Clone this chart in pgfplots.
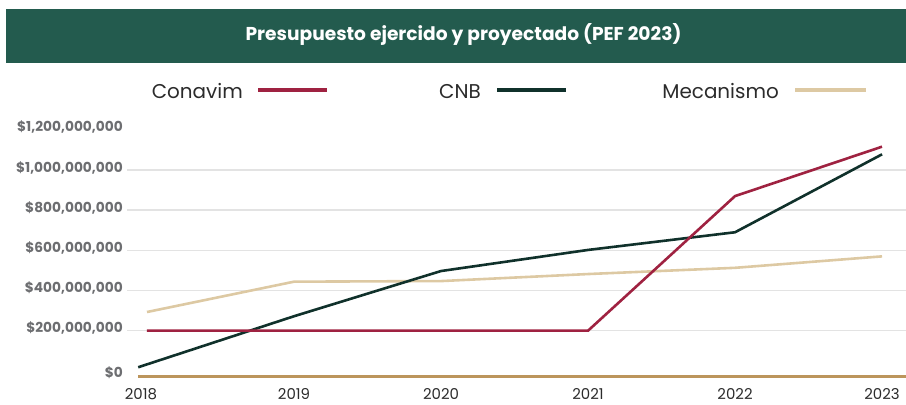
\documentclass[border=0pt]{standalone}
\usepackage{fontspec}
\setmainfont{Poppins}
\usepackage{pgfplots}
\pgfplotsset{compat=1.18}
\definecolor{titlebg}{HTML}{235B4E}
\definecolor{conavim}{HTML}{9F2241}
\definecolor{cnb}{HTML}{10312B}
\definecolor{mecan}{HTML}{DDC9A3}
\definecolor{base}{HTML}{BC955C}
\definecolor{ylab}{HTML}{6D6E71}
\definecolor{txt}{HTML}{2B2B2B}
\definecolor{gridc}{HTML}{E3E3E3}
\begin{document}
\begin{tikzpicture}[x=1bp,y=1bp]
\path[use as bounding box] (0,0) rectangle (906,404);
\fill[titlebg] (6,341.3) rectangle (906,395);
\node[anchor=base, text=white, font=\bfseries\fontsize{18.7}{18.7}\selectfont, inner sep=0] at (463.5,363.3) {Presupuesto ejercido y proyectado (PEF 2023)};
% legend
\node[anchor=base east, text=txt, font=\fontsize{20}{20}\selectfont, inner sep=0] at (243,306) {Conavim};
\draw[conavim, line width=4bp] (258,314) -- (327,314);
\node[anchor=base east, text=txt, font=\fontsize{20}{20}\selectfont, inner sep=0] at (481,306) {CNB};
\draw[cnb, line width=4bp] (497,314) -- (566,314);
\node[anchor=base east, text=txt, font=\fontsize{20}{20}\selectfont, inner sep=0] at (779,306) {Mecanismo};
\draw[mecan, line width=4.5bp] (795,314) -- (866,314);
\begin{axis}[
  at={(127bp,27.3bp)}, anchor=south west,
  scale only axis, width=779bp, height=256.7bp,
  xmin=2017.864, xmax=2023.163,
  ymin=-29e6, ymax=1248.8e6,
  scaled y ticks=false,
  axis line style={draw=none},
  major tick length=0pt,
  clip=false,
  xtick={2018,2019,2020,2021,2022,2023},
  xticklabels={\raisebox{3bp}{2018}\hspace*{12bp},2019,2020,2021,2022,2023},
  xticklabel style={anchor=north, inner sep=0pt, yshift=-12bp, text=txt, font=\fontsize{15}{15}\selectfont},
  ytick={-22e6,2e8,4e8,6e8,8e8,1e9,1.2e9},
  yticklabels={\$0,{\$200,000,000},{\$400,000,000},{\$600,000,000},{\$800,000,000},{\$1,000,000,000},{\$1,200,000,000}},
  yticklabel style={anchor=east, inner sep=0pt, xshift=-4bp, yshift=2.4bp, text=ylab, font=\bfseries\fontsize{13.8}{13.8}\selectfont},
  extra y ticks={2e8,4e8,6e8,8e8,1e9},
  extra y tick labels={},
  extra y tick style={ymajorgrids=true, major grid style={gridc, line width=1.6bp}},
]
\addplot[base, line width=3bp] coordinates {(2017.94,-29e6) (2023.163,-29e6)};
\addplot[mecan, line width=2.6bp] coordinates {(2018,293e6) (2019,444e6) (2020,447e6) (2021,482e6) (2022,513e6) (2023,570e6)};
\addplot[cnb, line width=2.6bp] coordinates {(2017.94,18e6) (2019,272e6) (2020,497e6) (2021,602e6) (2022,690e6) (2023,1078e6)};
\addplot[conavim, line width=2.6bp] coordinates {(2018,200e6) (2019,200e6) (2020,200e6) (2021,200e6) (2022,870e6) (2023,1116e6)};
\end{axis}
\end{tikzpicture}
\end{document}
